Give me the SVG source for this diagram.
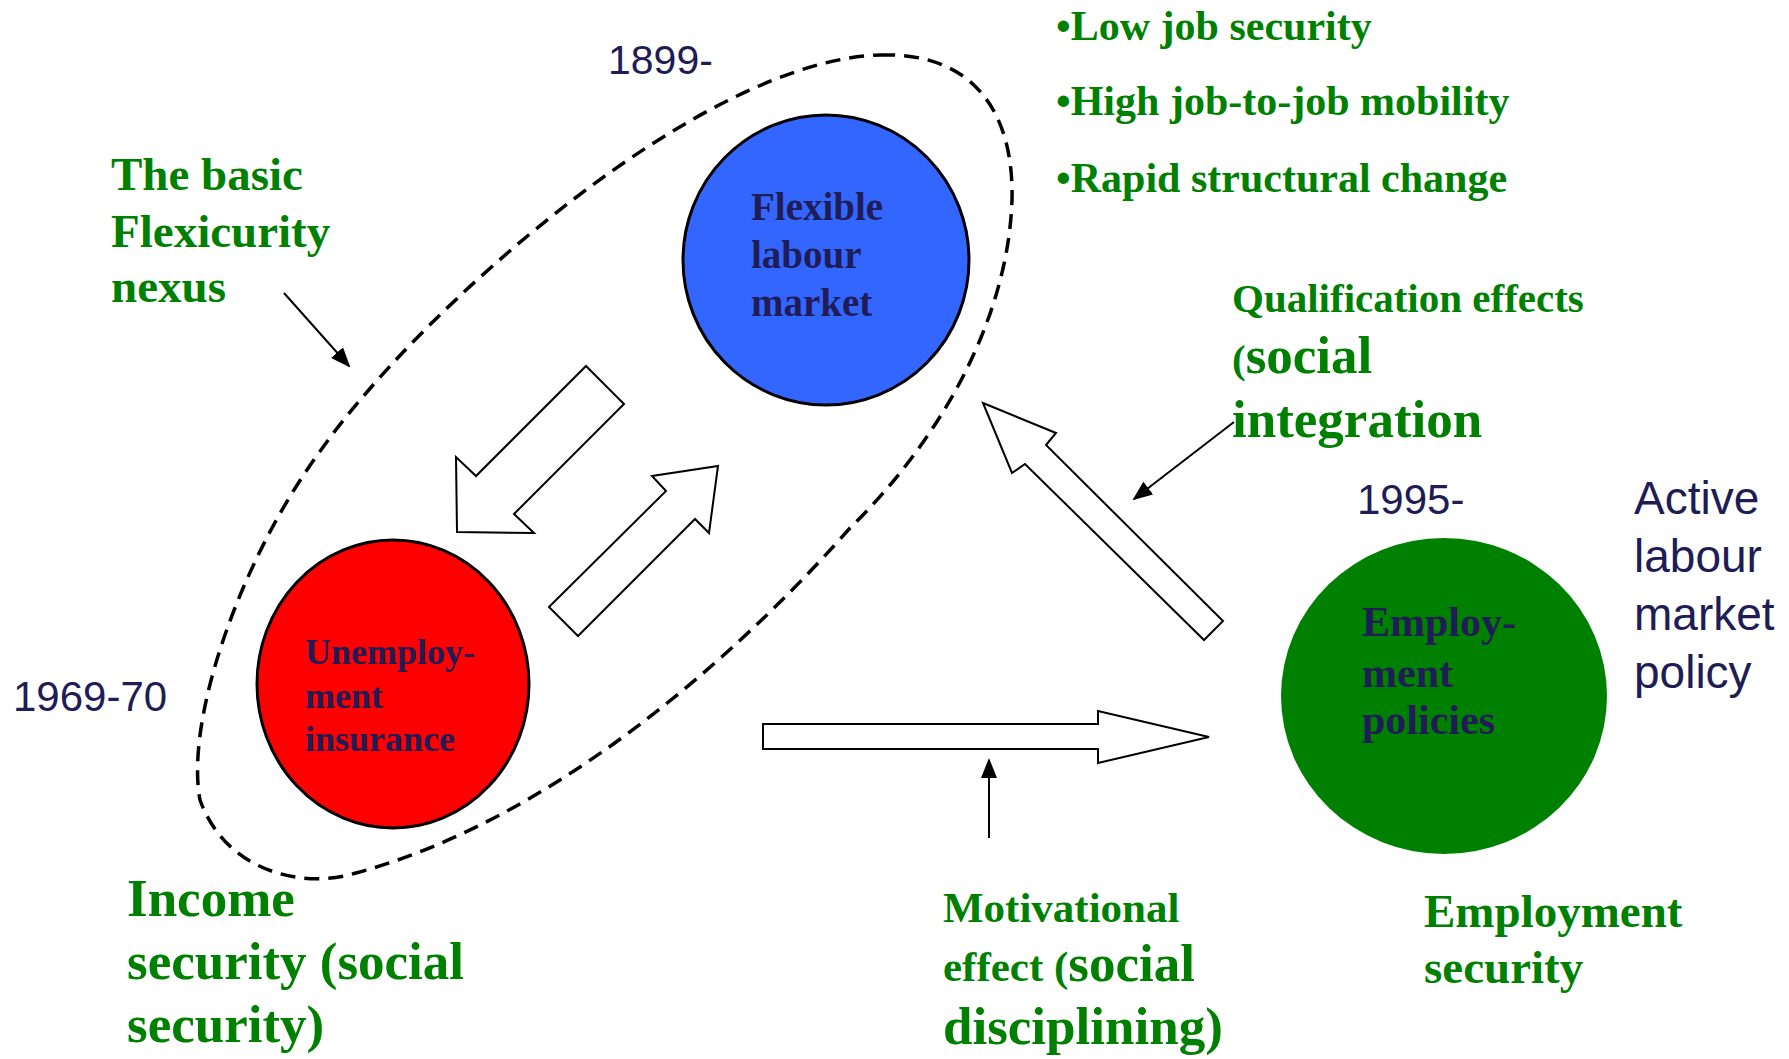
<svg xmlns="http://www.w3.org/2000/svg" width="1789" height="1059" viewBox="0 0 1789 1059">
<defs>
<style>
.sans{font-family:"Liberation Sans",Arial,sans-serif;fill:#201C55;}
.serif{font-family:"Liberation Serif","Times New Roman",serif;font-weight:bold;}
.g{fill:#008000;}
.n{fill:#201C55;}
.block{fill:#fff;stroke:#000;stroke-width:2;stroke-linejoin:miter;}
.thin{fill:none;stroke:#000;stroke-width:2;marker-end:url(#ah);}
</style>
<marker id="ah" markerWidth="10" markerHeight="8" refX="9" refY="4" orient="auto" markerUnits="strokeWidth">
<path d="M0,0 L10,4 L0,8 Z" fill="#000"/>
</marker>
</defs>
<rect width="1789" height="1059" fill="#fff"/>

<g id="nexus-boundary">
<path d="M880,55 C980,52 1014,120 1012,200 C1008,320 940,440 850,528 C760,630 570,815 356,873 C300,890 225,870 200,800 C185,720 240,560 321,450 C420,310 700,60 880,55 Z" fill="none" stroke="#000" stroke-width="3.5" stroke-dasharray="15 9"/>
</g>

<g id="node-flexible">
<ellipse cx="826" cy="260" rx="143" ry="145" fill="#3366FF" stroke="#000" stroke-width="3"/>
<text class="serif n" font-size="39" x="751" y="220">Flexible</text>
<text class="serif n" font-size="39" x="751" y="268">labour</text>
<text class="serif n" font-size="39" x="751" y="316">market</text>
</g>

<g id="node-unemployment">
<ellipse cx="393" cy="684" rx="136" ry="144" fill="#FF0000" stroke="#000" stroke-width="3"/>
<text class="serif n" font-size="36" x="305" y="664">Unemploy-</text>
<text class="serif n" font-size="36" x="305" y="708">ment</text>
<text class="serif n" font-size="36" x="305" y="751">insurance</text>
</g>

<g id="node-employment">
<ellipse cx="1444" cy="696" rx="163" ry="158" fill="#008000"/>
<text class="serif n" font-size="42" x="1362" y="636">Employ-</text>
<text class="serif n" font-size="42" x="1362" y="687">ment</text>
<text class="serif n" font-size="42" x="1362" y="734">policies</text>
</g>

<g id="connectors">
<polygon class="block" points="586,366 624,404 514,514 534,533 457,532 456,457 476,476"/>
<polygon class="block" points="549,607 666,491 652,476 718,466 709,533 695,519 578,636"/>
<polygon class="block" points="983,403 1056,433 1046,445 1223,621 1204,640 1025,464 1012,473"/>
<polygon class="block" points="763,724 1098,724 1098,711 1209,737 1098,763 1098,749 763,749"/>
<line class="thin" x1="284" y1="293" x2="349" y2="366"/>
<line class="thin" x1="1234" y1="422" x2="1134" y2="499"/>
<line class="thin" x1="989" y1="838" x2="989" y2="760"/>
</g>

<g id="labels">
<text class="sans" font-size="41" x="608" y="74">1899-</text>
<text class="sans" font-size="42" x="13" y="711">1969-70</text>
<text class="sans" font-size="42" x="1357" y="514">1995-</text>
<text class="sans" font-size="46" x="1634" y="514">Active</text>
<text class="sans" font-size="46" x="1634" y="572">labour</text>
<text class="sans" font-size="46" x="1634" y="630">market</text>
<text class="sans" font-size="46" x="1634" y="688">policy</text>

<text class="serif g" font-size="47" x="111" y="190">The basic</text>
<text class="serif g" font-size="47" x="111" y="247">Flexicurity</text>
<text class="serif g" font-size="47" x="111" y="302">nexus</text>

<text class="serif g" font-size="42" x="1056" y="40">•Low job security</text>
<text class="serif g" font-size="42" x="1056" y="115">•High job-to-job mobility</text>
<text class="serif g" font-size="42" x="1056" y="192">•Rapid structural change</text>

<text class="serif g" font-size="41" x="1232" y="312">Qualification effects</text>
<text class="serif g" x="1232" y="373"><tspan font-size="41">(</tspan><tspan font-size="53">social</tspan></text>
<text class="serif g" font-size="53" x="1232" y="437">integration</text>

<text class="serif g" font-size="53" x="127" y="916">Income</text>
<text class="serif g" font-size="53" x="127" y="979">security (social</text>
<text class="serif g" font-size="53" x="127" y="1042">security)</text>

<text class="serif g" font-size="43" x="943" y="922">Motivational</text>
<text class="serif g" x="943" y="981"><tspan font-size="43">effect (</tspan><tspan font-size="53">social</tspan></text>
<text class="serif g" font-size="53" x="943" y="1044">disciplining)</text>

<text class="serif g" font-size="47" x="1424" y="927">Employment</text>
<text class="serif g" font-size="47" x="1424" y="983">security</text>
</g>
</svg>
